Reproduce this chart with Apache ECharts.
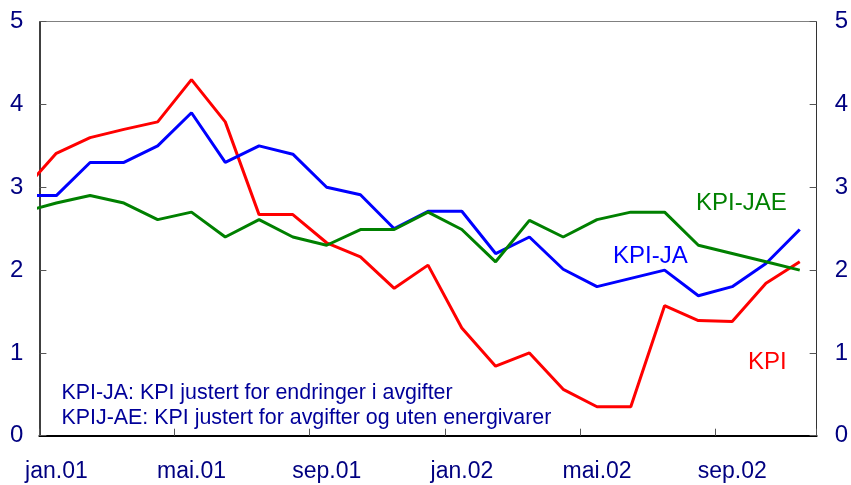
<!DOCTYPE html>
<html>
<head>
<meta charset="utf-8">
<script src="https://cdn.jsdelivr.net/npm/echarts@6/dist/echarts.min.js"></script>
<style>
html,body{margin:0;padding:0;background:#fff;}
#chart{width:851px;height:485px;}
</style>
</head>
<body>
<div id="chart"></div>
<script>
// Months: des.00 (partly outside the plot) through nov.02
const months = ['des.00','jan.01','feb.01','mar.01','apr.01','mai.01','jun.01','jul.01','aug.01','sep.01','okt.01','nov.01','des.01',
  'jan.02','feb.02','mar.02','apr.02','mai.02','jun.02','jul.02','aug.02','sep.02','okt.02','nov.02'];
const tickLabels = ['jan.01','mai.01','sep.01','jan.02','mai.02','sep.02'];
const yTicks = [0,1,2,3,4,5];

const kpi    = [2.95,3.41,3.60,3.70,3.79,4.30,3.79,2.67,2.67,2.33,2.16,1.78,2.06,1.30,0.84,1.00,0.56,0.35,0.35,1.57,1.39,1.38,1.84,2.10];
const kpiJA  = [2.90,2.90,3.30,3.30,3.50,3.90,3.30,3.50,3.40,3.00,2.91,2.50,2.71,2.71,2.20,2.40,2.01,1.80,1.90,2.00,1.69,1.80,2.08,2.49];
const kpiJAE = [2.70,2.81,2.90,2.81,2.61,2.70,2.40,2.61,2.40,2.30,2.49,2.49,2.70,2.49,2.10,2.60,2.40,2.61,2.70,2.70,2.30,2.20,2.10,2.00];

const seriesNames = ['KPI','KPI-JA','KPI-JAE'];
const noteLines = ['KPI-JA: KPI justert for endringer i avgifter','KPIJ-AE: KPI justert for avgifter og uten energivarer'];

const FONT = "'Liberation Sans', Arial, sans-serif";
const toPairs = arr => arr.map((v,i) => [i-1, v]);

const chart = echarts.init(document.getElementById('chart'), null, {renderer:'canvas'});
const mkLine = (name, data, color) => ({
  name, type:'line', data: toPairs(data), symbol:'none', clip:true,
  lineStyle:{color, width:3}, itemStyle:{color}, animation:false, z:3
});

chart.setOption({
  animation:false,
  backgroundColor:'#fff',
  grid:{left:39.4, right:33.7, top:21.7, bottom:49.3, containLabel:false},
  xAxis:[{
    type:'value', position:'bottom', min:-0.5, max:months.length-1.5, interval:4,
    axisLine:{show:true, onZero:false, lineStyle:{color:'#000', width:2}},
    axisTick:{show:true, inside:true, length:7, lineStyle:{color:'#555', width:1}},
    splitLine:{show:false},
    axisLabel:{
      show:true, margin:24, color:'#000080', fontFamily:FONT, fontSize:23,
      padding:[0,0,0,34], showMinLabel:true, showMaxLabel:true,
      formatter: v => {
        const k = Math.round((v+0.5)/4);
        return (Math.abs(v-(k*4-0.5))<1e-6 && k>=0 && k<tickLabels.length) ? tickLabels[k] : '';
      }
    }
  },{
    type:'value', position:'top', min:-0.5, max:months.length-1.5,
    axisLine:{show:true, onZero:false, lineStyle:{color:'#808080', width:1}},
    axisTick:{show:false}, axisLabel:{show:false}, splitLine:{show:false}
  }],
  yAxis:[{
    type:'value', position:'left', min:yTicks[0], max:yTicks[yTicks.length-1], interval:1,
    axisLine:{show:true, onZero:false, lineStyle:{color:'#000', width:1.5}},
    axisTick:{show:true, inside:true, length:7, lineStyle:{color:'#555'}},
    splitLine:{show:false},
    axisLabel:{margin:16, color:'#000080', fontFamily:FONT, fontSize:24}
  },{
    type:'value', position:'right', min:yTicks[0], max:yTicks[yTicks.length-1], interval:1,
    axisLine:{show:true, onZero:false, lineStyle:{color:'#333', width:1}},
    axisTick:{show:true, inside:true, length:7, lineStyle:{color:'#555'}},
    splitLine:{show:false},
    axisLabel:{margin:18, color:'#000080', fontFamily:FONT, fontSize:24}
  }],
  series:[
    mkLine(seriesNames[0], kpi, '#ff0000'),
    mkLine(seriesNames[1], kpiJA, '#0000ff'),
    mkLine(seriesNames[2], kpiJAE, '#008000')
  ],
  graphic:[
    {type:'text', left:696, top:191, style:{text:seriesNames[2], font:'24px '+FONT, fill:'#008000'}},
    {type:'text', left:613, top:244, style:{text:seriesNames[1], font:'24px '+FONT, fill:'#0000ff'}},
    {type:'text', left:748, top:350, style:{text:seriesNames[0], font:'24px '+FONT, fill:'#ff0000'}},
    {type:'text', left:61.5, top:383, style:{text:noteLines[0], font:'21.4px '+FONT, fill:'#000099'}},
    {type:'text', left:61.5, top:407.5, style:{text:noteLines[1], font:'21.4px '+FONT, fill:'#000099'}}
  ]
});
</script>
</body>
</html>
